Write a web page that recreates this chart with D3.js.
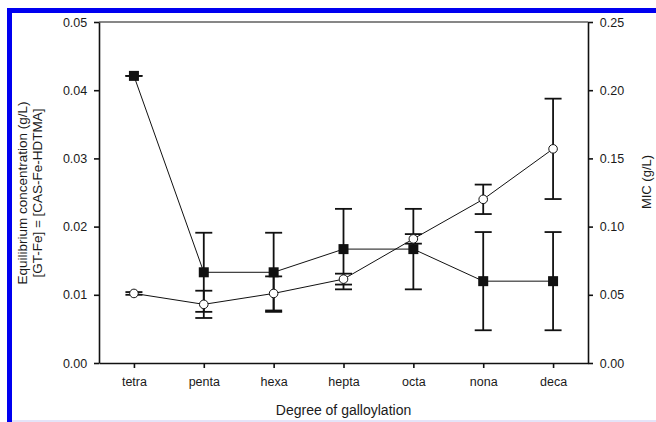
<!DOCTYPE html>
<html>
<head>
<meta charset="utf-8">
<script src="https://cdn.jsdelivr.net/npm/d3@7"></script>
<style>
  body { margin: 0; background: #fff; }
  text { font-family: "Liberation Sans", Arial, sans-serif; fill: #1a1a1a; }
</style>
</head>
<body>
<div id="chart"></div>
<script>
var categories = ["tetra", "penta", "hexa", "hepta", "octa", "nona", "deca"];

// filled squares, left axis (g/L)
var eqValues = [0.0421, 0.0133, 0.0133, 0.0167, 0.0167, 0.0120, 0.0120];
var eqErrors = [0.0000, 0.0058, 0.0058, 0.0059, 0.0059, 0.0072, 0.0072];

// open circles, right axis MIC (g/L)
var micValues = [0.051, 0.043, 0.051, 0.0615, 0.091, 0.120, 0.157];
var micErrors = [0.001, 0.010, 0.0125, 0.004, 0.0035, 0.0108, 0.0368];

var leftTicks = [0, 0.01, 0.02, 0.03, 0.04, 0.05];
var rightTicks = [0, 0.05, 0.10, 0.15, 0.20, 0.25];

var W = 656, H = 422;
var margin = {top: 22, right: 68, bottom: 59, left: 99};

var svg = d3.select("#chart").append("svg")
    .attr("width", W)
    .attr("height", H);

// blue frame from the page it was cut from
svg.append("rect").attr("x", 7).attr("y", 8).attr("width", 5).attr("height", H - 8).attr("fill", "#0000f0");
svg.append("rect").attr("x", 7).attr("y", 8).attr("width", W - 7).attr("height", 5).attr("fill", "#0000f0");
svg.append("rect").attr("x", 12).attr("y", 420).attr("width", W - 12).attr("height", 2).attr("fill", "#e4e4f8");

var x = d3.scalePoint()
    .domain(categories)
    .range([margin.left, W - margin.right])
    .padding(0.5);

var yL = d3.scaleLinear().domain([0, 0.05]).range([H - margin.bottom, margin.top]);
var yR = d3.scaleLinear().domain([0, 0.25]).range([H - margin.bottom, margin.top]);

// box
svg.append("line")
    .attr("x1", margin.left).attr("x2", W - margin.right)
    .attr("y1", margin.top).attr("y2", margin.top)
    .attr("stroke", "#111").attr("stroke-width", 1.2);

var xAxis = svg.append("g")
    .attr("transform", "translate(0," + (H - margin.bottom) + ")")
    .call(d3.axisBottom(x).tickSize(5).tickSizeOuter(0));

var lAxis = svg.append("g")
    .attr("transform", "translate(" + margin.left + ",0)")
    .call(d3.axisLeft(yL).tickValues(leftTicks).tickFormat(d3.format(".2f")).tickSize(5).tickSizeOuter(0));

var rAxis = svg.append("g")
    .attr("transform", "translate(" + (W - margin.right) + ",0)")
    .call(d3.axisRight(yR).tickValues(rightTicks).tickFormat(d3.format(".2f")).tickSize(5).tickSizeOuter(0));

[xAxis, lAxis, rAxis].forEach(function(a) {
  a.selectAll(".domain").attr("stroke", "#111").attr("stroke-width", 1.6);
  a.selectAll(".tick line").attr("stroke", "#111").attr("stroke-width", 1.6);
  a.selectAll("text").style("font-size", "12.5px").attr("fill", "#1a1a1a");
});
xAxis.selectAll("text").attr("dy", "1.2em");
lAxis.selectAll("text").attr("dx", "-0.3em");
rAxis.selectAll("text").attr("dx", "0.3em");

// axis titles
svg.append("text")
    .attr("x", (margin.left + W - margin.right) / 2)
    .attr("y", 415)
    .attr("text-anchor", "middle")
    .style("font-size", "14px")
    .text("Degree of galloylation");

var lt = svg.append("text")
    .attr("transform", "translate(27," + 193 + ") rotate(-90)")
    .attr("text-anchor", "middle")
    .style("font-size", "13.5px");
lt.append("tspan").attr("x", 0).attr("dy", 0).text("Equilibrium concentration (g/L)");
lt.append("tspan").attr("x", 0).attr("dy", "1.1em").text("[GT-Fe] = [CAS-Fe-HDTMA]");

svg.append("text")
    .attr("transform", "translate(651,182) rotate(-90)")
    .attr("text-anchor", "middle")
    .style("font-size", "13px")
    .text("MIC (g/L)");

var eqData = categories.map(function(c, i) { return {c: c, v: eqValues[i], e: eqErrors[i]}; });
var micData = categories.map(function(c, i) { return {c: c, v: micValues[i], e: micErrors[i]}; });

var capW = 8.5;

function drawErrors(data, y) {
  var g = svg.append("g").attr("stroke", "#111").attr("stroke-width", 1.8);
  g.selectAll(".bar").data(data).enter().append("line")
    .attr("x1", d => x(d.c)).attr("x2", d => x(d.c))
    .attr("y1", d => y(d.v - d.e)).attr("y2", d => y(d.v + d.e));
  g.selectAll(".top").data(data).enter().append("line")
    .attr("x1", d => x(d.c) - capW).attr("x2", d => x(d.c) + capW)
    .attr("y1", d => y(d.v + d.e)).attr("y2", d => y(d.v + d.e));
  g.selectAll(".bot").data(data).enter().append("line")
    .attr("x1", d => x(d.c) - capW).attr("x2", d => x(d.c) + capW)
    .attr("y1", d => y(d.v - d.e)).attr("y2", d => y(d.v - d.e));
}

drawErrors(eqData, yL);
drawErrors(micData, yR);

var lineL = d3.line().x(d => x(d.c)).y(d => yL(d.v));
var lineR = d3.line().x(d => x(d.c)).y(d => yR(d.v));

svg.append("path").datum(eqData).attr("d", lineL)
    .attr("fill", "none").attr("stroke", "#111").attr("stroke-width", 1);
svg.append("path").datum(micData).attr("d", lineR)
    .attr("fill", "none").attr("stroke", "#111").attr("stroke-width", 1);

svg.selectAll(".sq").data(eqData).enter().append("rect")
    .attr("x", d => x(d.c) - 5).attr("y", d => yL(d.v) - 5)
    .attr("width", 10).attr("height", 10)
    .attr("fill", "#111");

svg.selectAll(".ci").data(micData).enter().append("circle")
    .attr("cx", d => x(d.c)).attr("cy", d => yR(d.v))
    .attr("r", 4.3)
    .attr("fill", "#fff").attr("stroke", "#111").attr("stroke-width", 1);
</script>
</body>
</html>
